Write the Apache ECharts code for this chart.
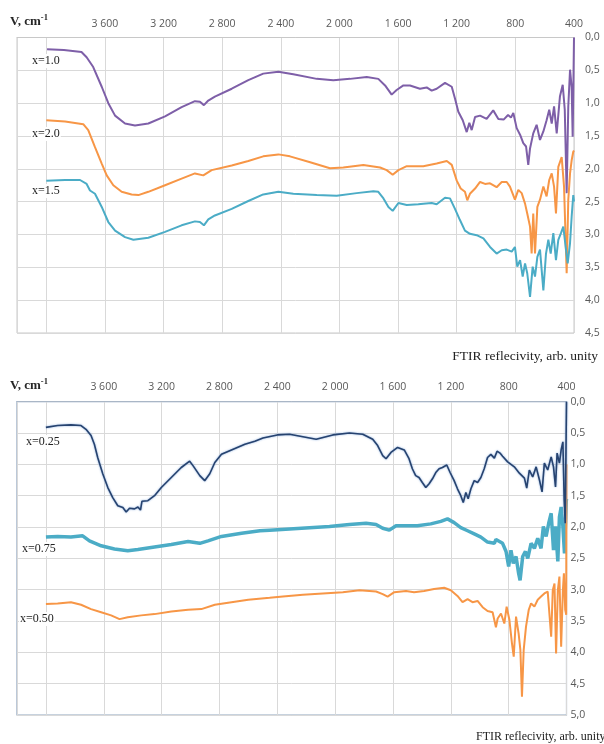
<!DOCTYPE html>
<html>
<head>
<meta charset="utf-8">
<script src="https://cdn.jsdelivr.net/npm/echarts@6/dist/echarts.min.js"></script>
<style>
  html, body { margin: 0; padding: 0; background: #ffffff; }
  #chart { width: 604px; height: 744px; }
</style>
</head>
<body>
<div id="chart"></div>
<script>
// ---- Upper panel: FTIR reflectivity, x = 1.0 / 2.0 / 1.5 ----
const wnX10 = [3995, 3880, 3760, 3725, 3680, 3622, 3577, 3531, 3463, 3395, 3304, 3190, 3077, 2986, 2952, 2925, 2895, 2850, 2735, 2622, 2520, 2417, 2315, 2155, 2042, 1928, 1814, 1735, 1689, 1644, 1610, 1564, 1519, 1451, 1405, 1371, 1337, 1280, 1234, 1212, 1189, 1159, 1132, 1114, 1098, 1075, 1041, 996, 951, 916, 880, 850, 830, 814, 791, 768, 746, 727, 712, 700, 678, 655, 632, 609, 587, 569, 552, 536, 518, 496, 477, 463, 450, 439, 427, 416, 409, 402, 400];
const vX10  = [0.18, 0.19, 0.22, 0.30, 0.45, 0.75, 1.00, 1.19, 1.31, 1.34, 1.31, 1.20, 1.06, 0.97, 0.98, 1.03, 0.96, 0.90, 0.78, 0.65, 0.55, 0.52, 0.56, 0.63, 0.65, 0.63, 0.60, 0.63, 0.73, 0.87, 0.80, 0.73, 0.73, 0.78, 0.76, 0.81, 0.78, 0.69, 0.75, 0.93, 1.13, 1.26, 1.44, 1.30, 1.41, 1.21, 1.19, 1.24, 1.11, 1.24, 1.25, 1.18, 1.22, 1.15, 1.38, 1.48, 1.61, 1.66, 1.94, 1.69, 1.46, 1.33, 1.56, 1.43, 1.26, 1.10, 1.31, 1.05, 1.46, 0.90, 0.72, 1.10, 2.37, 1.05, 0.49, 0.76, 1.51, 1.50, 0.00];

const wnX20 = [4000, 3872, 3748, 3714, 3668, 3622, 3588, 3543, 3486, 3418, 3372, 3304, 3190, 3077, 2986, 2929, 2872, 2735, 2622, 2520, 2417, 2338, 2200, 2065, 1974, 1837, 1723, 1678, 1637, 1598, 1541, 1462, 1428, 1337, 1268, 1234, 1200, 1173, 1144, 1128, 1110, 1075, 1041, 1007, 973, 928, 893, 859, 837, 803, 780, 757, 734, 719, 700, 689, 678, 666, 650, 632, 609, 587, 569, 552, 536, 523, 507, 484, 468, 450, 439, 427, 416, 405, 400];
const vX20  = [1.26, 1.28, 1.32, 1.41, 1.67, 1.92, 2.10, 2.25, 2.35, 2.39, 2.40, 2.35, 2.25, 2.15, 2.07, 2.10, 2.02, 1.95, 1.88, 1.81, 1.78, 1.81, 1.90, 1.99, 1.98, 1.94, 1.98, 2.02, 2.09, 2.02, 1.96, 1.96, 1.96, 1.92, 1.88, 1.94, 2.18, 2.30, 2.35, 2.48, 2.38, 2.30, 2.20, 2.23, 2.22, 2.28, 2.20, 2.20, 2.27, 2.47, 2.32, 2.37, 2.53, 2.68, 2.88, 3.29, 2.68, 3.29, 2.58, 2.47, 2.27, 2.42, 2.17, 2.07, 2.27, 2.68, 1.97, 1.82, 2.27, 3.59, 2.47, 2.07, 1.87, 1.74, 1.72];

const wnX15 = [4000, 3872, 3770, 3725, 3702, 3668, 3622, 3577, 3531, 3463, 3406, 3304, 3190, 3077, 2986, 2952, 2925, 2895, 2850, 2735, 2622, 2520, 2417, 2315, 2155, 2019, 1883, 1769, 1735, 1700, 1666, 1637, 1598, 1541, 1462, 1428, 1371, 1337, 1280, 1246, 1212, 1178, 1144, 1110, 1064, 1018, 973, 928, 893, 859, 825, 803, 787, 768, 750, 734, 719, 700, 682, 666, 650, 632, 609, 591, 575, 559, 541, 523, 507, 489, 473, 457, 443, 427, 416, 405, 400];
const vX15  = [2.18, 2.17, 2.17, 2.23, 2.33, 2.38, 2.58, 2.81, 2.94, 3.04, 3.08, 3.05, 2.96, 2.86, 2.80, 2.81, 2.86, 2.77, 2.71, 2.61, 2.49, 2.39, 2.35, 2.38, 2.40, 2.41, 2.37, 2.34, 2.35, 2.45, 2.58, 2.64, 2.52, 2.55, 2.54, 2.53, 2.52, 2.54, 2.44, 2.45, 2.61, 2.78, 2.94, 2.99, 3.01, 3.06, 3.19, 3.29, 3.24, 3.23, 3.26, 3.19, 3.49, 3.39, 3.64, 3.44, 3.59, 3.95, 3.49, 3.64, 3.34, 3.23, 3.85, 3.29, 3.08, 3.29, 2.98, 3.39, 3.08, 2.98, 2.88, 3.19, 3.44, 3.13, 2.73, 2.40, 2.50];

// ---- Lower panel: FTIR reflectivity, x = 0.25 / 0.75 / 0.50 ----
const wnX025 = [4000, 3919, 3827, 3757, 3723, 3688, 3665, 3642, 3607, 3572, 3538, 3503, 3468, 3445, 3422, 3387, 3364, 3346, 3336, 3295, 3249, 3202, 3133, 3064, 3006, 2983, 2936, 2902, 2867, 2832, 2786, 2717, 2624, 2555, 2499, 2400, 2315, 2223, 2131, 2016, 1901, 1809, 1740, 1706, 1671, 1648, 1614, 1568, 1522, 1489, 1466, 1443, 1420, 1397, 1373, 1350, 1327, 1304, 1281, 1258, 1228, 1205, 1177, 1154, 1131, 1114, 1096, 1080, 1061, 1038, 1015, 992, 969, 946, 923, 899, 880, 860, 842, 807, 761, 726, 691, 675, 657, 634, 610, 587, 569, 553, 530, 506, 490, 476, 465, 449, 437, 425, 416, 409, 402, 400];
const vX025  = [0.41, 0.38, 0.37, 0.38, 0.44, 0.54, 0.68, 0.89, 1.15, 1.37, 1.53, 1.66, 1.69, 1.76, 1.70, 1.71, 1.68, 1.73, 1.59, 1.58, 1.50, 1.37, 1.21, 1.05, 0.95, 1.02, 1.18, 1.26, 1.15, 0.97, 0.84, 0.77, 0.68, 0.63, 0.58, 0.53, 0.52, 0.56, 0.60, 0.53, 0.50, 0.52, 0.60, 0.70, 0.86, 0.91, 0.81, 0.73, 0.77, 0.91, 1.07, 1.18, 1.21, 1.29, 1.37, 1.31, 1.23, 1.13, 1.07, 1.05, 1.01, 1.13, 1.26, 1.39, 1.50, 1.61, 1.45, 1.55, 1.39, 1.26, 1.29, 1.21, 1.07, 0.89, 0.84, 0.90, 0.79, 0.82, 0.87, 0.96, 1.04, 1.14, 1.22, 1.38, 1.09, 1.20, 1.04, 1.25, 1.44, 0.98, 1.09, 0.88, 1.04, 1.36, 0.82, 0.98, 0.77, 0.64, 1.57, 1.94, 1.97, 0.00];

const wnX075 = [4000, 3919, 3827, 3746, 3699, 3618, 3526, 3434, 3364, 3249, 3133, 3017, 2936, 2879, 2786, 2647, 2520, 2453, 2315, 2177, 2039, 1901, 1786, 1717, 1671, 1625, 1579, 1487, 1431, 1339, 1269, 1223, 1177, 1131, 1084, 1038, 992, 946, 899, 888, 842, 818, 800, 784, 768, 749, 731, 721, 703, 684, 668, 645, 622, 599, 576, 560, 541, 523, 506, 490, 476, 460, 449, 437, 425, 414, 402, 400];
const vX075  = [2.16, 2.15, 2.16, 2.14, 2.22, 2.30, 2.35, 2.38, 2.36, 2.32, 2.28, 2.23, 2.26, 2.22, 2.15, 2.10, 2.06, 2.05, 2.03, 2.01, 1.99, 1.96, 1.94, 1.96, 2.02, 2.05, 1.98, 1.98, 1.98, 1.95, 1.91, 1.87, 1.93, 2.01, 2.06, 2.11, 2.16, 2.24, 2.26, 2.20, 2.26, 2.39, 2.63, 2.37, 2.58, 2.47, 2.74, 2.85, 2.47, 2.39, 2.50, 2.26, 2.34, 2.18, 2.34, 1.99, 2.15, 1.94, 1.78, 2.37, 1.99, 2.55, 1.84, 1.68, 1.99, 2.42, 1.60, 1.55];

const wnX050 = [4000, 3919, 3827, 3757, 3688, 3618, 3549, 3491, 3434, 3341, 3249, 3133, 3017, 2925, 2832, 2717, 2601, 2453, 2361, 2223, 2085, 1947, 1832, 1717, 1671, 1637, 1591, 1510, 1454, 1385, 1316, 1246, 1200, 1154, 1119, 1084, 1050, 1015, 980, 946, 911, 888, 876, 853, 830, 814, 795, 777, 765, 749, 731, 719, 708, 696, 680, 661, 645, 622, 599, 576, 553, 530, 506, 495, 483, 472, 460, 449, 437, 425, 418, 409, 402, 400];
const vX050  = [3.23, 3.22, 3.20, 3.24, 3.31, 3.36, 3.41, 3.47, 3.44, 3.41, 3.39, 3.35, 3.32, 3.31, 3.24, 3.20, 3.16, 3.13, 3.11, 3.08, 3.06, 3.04, 3.01, 3.03, 3.07, 3.11, 3.04, 3.02, 3.04, 3.02, 2.99, 2.97, 3.01, 3.10, 3.20, 3.15, 3.20, 3.18, 3.28, 3.34, 3.36, 3.60, 3.46, 3.38, 3.54, 3.27, 3.48, 3.86, 4.07, 3.43, 3.70, 3.96, 4.71, 3.96, 3.59, 3.32, 3.22, 3.27, 3.16, 3.11, 3.06, 3.03, 3.75, 3.01, 2.90, 4.02, 3.01, 2.79, 3.91, 3.01, 2.74, 3.32, 3.40, 1.00];

// Axis ranges
const wnMin = 400, wnMax = 4200, wnStep = 400;
const topMax = 4.5, bottomMax = 5.0, vStep = 0.5;

// ---- helpers ----
const pairs = (wn, v) => wn.map((w, i) => [w, v[i]]);
const fmtWn = (v) => {
  if (v >= 4000) return '';
  if (v >= 1000) return Math.floor(v / 1000) + ' ' + String(v % 1000).padStart(3, '0');
  return String(v);
};
const fmtV = (v) => v.toFixed(1).replace('.', ',');

const labelFont = { color: '#595959', fontFamily: 'Open Sans', fontSize: 10.5 };
const gridLine = { show: true, lineStyle: { color: '#D9D9D9', width: 1 } };

function xAxisFor(gridIndex, margin, lineColor) {
  return {
    gridIndex, type: 'value', position: 'top', inverse: true,
    min: wnMin, max: wnMax, interval: wnStep,
    axisLine: { show: true, lineStyle: { color: lineColor, width: 1 } },
    axisTick: { show: false },
    axisLabel: Object.assign({ formatter: fmtWn, margin }, labelFont),
    splitLine: gridLine
  };
}
function yAxisFor(gridIndex, max, margin) {
  return {
    gridIndex, type: 'value', position: 'right', inverse: true,
    min: 0, max, interval: vStep,
    axisLine: { show: false }, axisTick: { show: false },
    axisLabel: Object.assign({ formatter: fmtV, margin }, labelFont),
    splitLine: gridLine
  };
}
function line(name, idx, wn, v, color, width, extra) {
  return {
    name, type: 'line', xAxisIndex: idx, yAxisIndex: idx,
    data: pairs(wn, v), symbol: 'none', showSymbol: false,
    lineStyle: Object.assign({ color, width }, extra || {}),
    itemStyle: { color }, animation: false, silent: true
  };
}

const serif = 'Liberation Serif';
function seriesLabel(text, x, y) {
  return {
    type: 'text', left: x, top: y - 8, z: 100,
    style: { text, font: '12px "' + serif + '"', fill: '#222222', backgroundColor: '#ffffff', padding: [1, 1, 1, 1] }
  };
}
function unitLabel(x, y) {
  return {
    type: 'text', left: x, top: y, z: 100,
    style: {
      text: '{a|V, cm}{b|-1}',
      rich: {
        a: { fontFamily: serif, fontSize: 13, fontWeight: 'bold', fill: '#262626', verticalAlign: 'bottom', lineHeight: 15 },
        b: { fontFamily: serif, fontSize: 8.5, fontWeight: 'bold', fill: '#262626', verticalAlign: 'top', lineHeight: 15 }
      }
    }
  };
}
function captionLabel(pos, y, size) {
  return Object.assign({
    type: 'text', top: y, z: 100,
    style: { text: 'FTIR reflecivity, arb. unity', font: size + 'px "' + serif + '"', fill: '#222222' }
  }, pos);
}

const chart = echarts.init(document.getElementById('chart'), null, { renderer: 'canvas' });
chart.setOption({
  backgroundColor: '#ffffff',
  animation: false,
  grid: [
    { left: 17, top: 37.5, width: 557, height: 295.5, containLabel: false, outerBoundsMode: 'none',
      show: true, borderColor: '#C8C8C8', borderWidth: 1 },
    { left: 17, top: 401.7, width: 549.5, height: 313.3, containLabel: false, outerBoundsMode: 'none',
      show: true, borderColor: '#8FA5BE', borderWidth: 1.2 }
  ],
  xAxis: [xAxisFor(0, 8, '#C8C8C8'), xAxisFor(1, 9, '#A9B6C6')],
  yAxis: [yAxisFor(0, topMax, 11), yAxisFor(1, bottomMax, 4)],
  series: [
    line('x=1.0', 0, wnX10, vX10, '#7E5FA8', 2),
    line('x=2.0', 0, wnX20, vX20, '#F79646', 2),
    line('x=1.5', 0, wnX15, vX15, '#4BACC6', 2),
    line('x=0.75', 1, wnX075, vX075, '#4BACC6', 3.5),
    line('x=0.50', 1, wnX050, vX050, '#F79646', 2),
    line('x=0.25', 1, wnX025, vX025, '#27436F', 1.6,
      { shadowColor: 'rgba(120,160,215,0.9)', shadowBlur: 2 })
  ],
  graphic: [
    unitLabel(10, 13),
    captionLabel({ right: 6 }, 349, 13.5),
    seriesLabel('x=1.0', 31, 62),
    seriesLabel('x=2.0', 31, 135),
    seriesLabel('x=1.5', 31, 192),
    unitLabel(10, 377),
    captionLabel({ left: 476 }, 731, 12),
    seriesLabel('x=0.25', 25, 443),
    seriesLabel('x=0.75', 21, 550),
    seriesLabel('x=0.50', 19, 620)
  ]
});
</script>
</body>
</html>
